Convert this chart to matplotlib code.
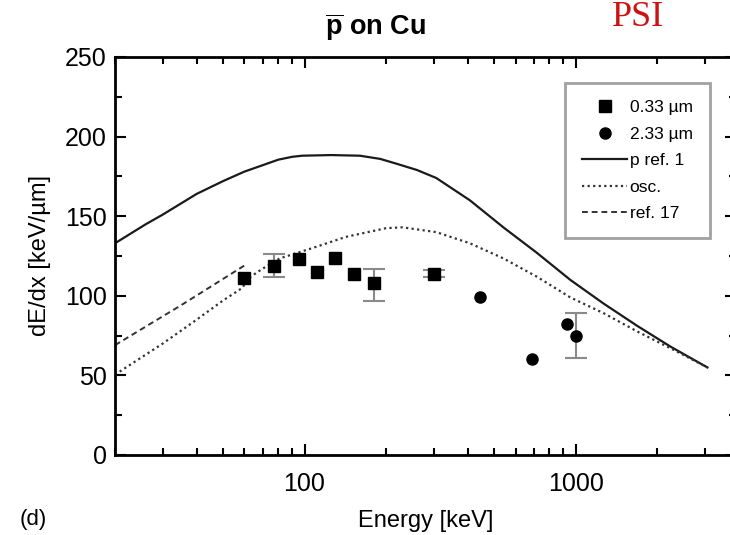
import numpy as np
import matplotlib
matplotlib.use("Agg")
import matplotlib.pyplot as plt
from matplotlib.ticker import FixedLocator, NullFormatter, FixedFormatter

plt.rcParams['font.family'] = ['Liberation Sans', 'DejaVu Sans']
plt.rcParams['mathtext.fontset'] = 'custom'
plt.rcParams['mathtext.rm'] = 'Liberation Sans'
plt.rcParams['mathtext.bf'] = 'Liberation Sans:bold'

# proton reference curve (ref. 1)
energy_p = [20, 26, 30, 40, 50, 60, 70, 80, 90, 98, 125, 160, 190, 218, 260, 306, 407, 541, 719, 955, 1270, 1690, 2240, 3060]
dedx_p = [133, 145, 151, 164, 172, 178, 182, 185.5, 187.3, 188, 188.4, 188, 186, 183, 179, 174, 160, 143, 127, 110, 95, 81, 68, 55]

# oscillator model
energy_osc = [20, 30, 40, 50, 59, 62, 70, 81, 107, 142, 200, 230, 306, 407, 541, 719, 955, 1270, 1690, 2240, 3060]
dedx_osc = [50.5, 70, 85, 97, 105, 111, 117, 123.5, 130, 137, 142.5, 143, 140, 133, 123.5, 112, 99, 89, 77.5, 67, 55]

# ref. 17
energy_r17 = [20, 35, 60]
dedx_r17 = [69, 94, 119]

# measured data
energy_thin = [60, 77, 95, 111, 129, 152, 181, 300]
dedx_thin = [111, 119, 123, 115, 124, 114, 108, 114]
energy_thick = [445, 687, 926, 1000]
dedx_thick = [99, 60, 82, 75]

# points with error bars
err_energy = [77, 181, 300, 1000]
err_dedx = [119, 107, 114, 75]
err_size = [7, 10, 2, 14]

fig = plt.figure(figsize=(7.3, 5.35), dpi=100)
ax = fig.add_axes([115/730, 1-455/535, 621/730, 398/535])

ax.errorbar(err_energy, err_dedx, yerr=err_size, fmt='none', ecolor='#8a8a8a',
            elinewidth=1.5, capsize=8, capthick=1.5, zorder=2)
ax.plot(energy_thin, dedx_thin, 's', color='black', markersize=8, label='0.33 µm', zorder=3)
ax.plot(energy_thick, dedx_thick, 'o', color='black', markersize=8, label='2.33 µm', zorder=3)
ax.plot(energy_p, dedx_p, '-', color='#1a1a1a', lw=1.6, label='p ref. 1')
ax.plot(energy_osc, dedx_osc, linestyle=(0, (1, 1.5)), color='#333333', lw=1.6, label='osc.')
ax.plot(energy_r17, dedx_r17, linestyle=(0, (3, 2)), color='#333333', lw=1.4, label='ref. 17')

ax.set_xscale('log')
ax.set_xlim(20, 3900)
ax.set_ylim(0, 250)

ax.xaxis.set_major_locator(FixedLocator([100, 1000]))
ax.xaxis.set_major_formatter(FixedFormatter(['100', '1000']))
minors = [v * d for d in (10, 100, 1000) for v in range(2, 10)]
ax.xaxis.set_minor_locator(FixedLocator([m for m in minors if 20 <= m <= 3900]))
ax.xaxis.set_minor_formatter(NullFormatter())
ax.yaxis.set_major_locator(FixedLocator([0, 50, 100, 150, 200, 250]))
ax.yaxis.set_minor_locator(FixedLocator([25, 75, 125, 175, 225]))

ax.tick_params(which='both', direction='in', top=True, right=True, labelsize=18, width=1.5)
ax.tick_params(which='major', length=8)
ax.tick_params(which='minor', length=5)
ax.tick_params(axis='x', pad=12)
ax.tick_params(axis='y', pad=6)
for s in ax.spines.values():
    s.set_linewidth(2)

ax.set_xlabel('Energy [keV]', fontsize=17, labelpad=10)
ax.set_ylabel('dE/dx [keV/µm]', fontsize=17, labelpad=10)

leg = ax.legend(loc='upper left', bbox_to_anchor=(0.724, 0.935), fontsize=12.5,
                frameon=True, fancybox=False, handlelength=2.6, handletextpad=0.15,
                borderpad=1.0, labelspacing=0.65, borderaxespad=0)
leg.get_frame().set_edgecolor('#8a8a8a')
leg.get_frame().set_linewidth(2)

fig.text(0.515, 1-27/535, r'$\mathbf{\overline{p}}$ on Cu', fontsize=19.5, fontweight='bold',
         ha='center', va='center')
fig.text(20/730, 1-520/535, '(d)', fontsize=16, ha='left', va='center')
fig.text(612/730, 1-1/535, 'PSI', fontsize=26, color='#cc1111', family='Liberation Serif',
         ha='left', va='top')

fig.savefig('out.png', dpi=100)
